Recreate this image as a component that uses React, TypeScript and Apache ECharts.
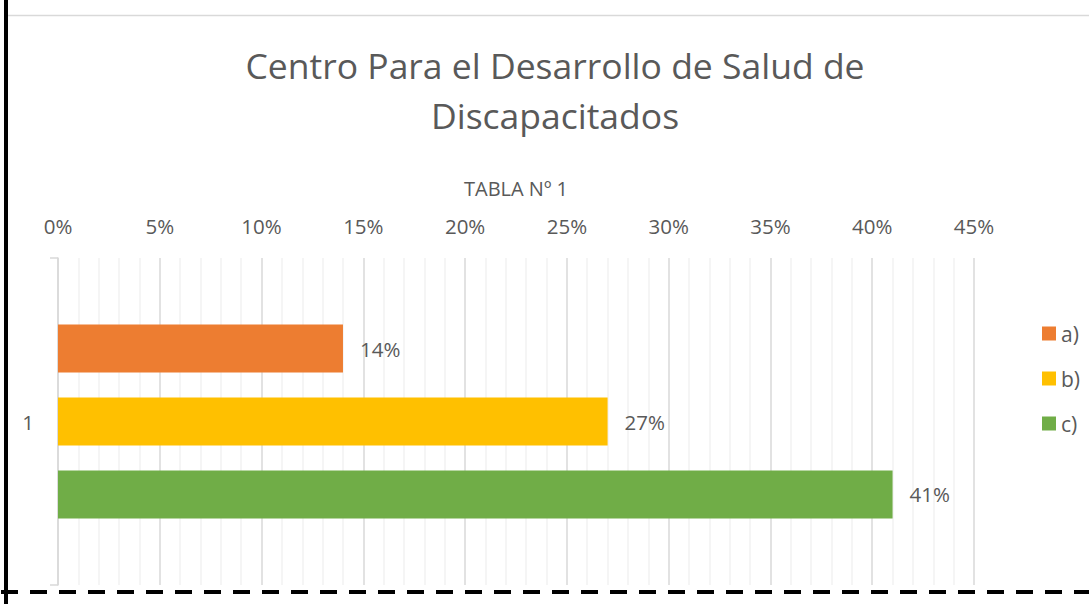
import React, { useEffect, useRef } from "react";
import * as echarts from "echarts";

const categories = ["1"];
const seriesNames = ["a)", "b)", "c)"];
const seriesValues = [14, 27, 41];
const seriesColors = ["#ED7D31", "#FFC000", "#70AD47"];
const titleLines = ["Centro Para el Desarrollo de Salud de", "Discapacitados"];
const axisName = "TABLA Nº 1";

const FONT = "'Open Sans', sans-serif";
const TXT = "#595959";

export default function App() {
  const ref = useRef<HTMLDivElement>(null);
  useEffect(() => {
    if (!ref.current) return;
    const chart = echarts.init(ref.current, null, { renderer: "svg" });
    chart.setOption({
      animation: false,
      backgroundColor: "#ffffff",
      textStyle: { fontFamily: FONT },
      graphic: [
        { type: "line", shape: { x1: 8, y1: 15.5, x2: 1089, y2: 15.5 }, style: { stroke: "#d9d9d9", lineWidth: 1.5 } },
        { type: "line", shape: { x1: 6, y1: 0, x2: 6, y2: 604 }, style: { stroke: "#000", lineWidth: 4 } },
        { type: "line", shape: { x1: 1, y1: 592, x2: 1089, y2: 592 }, style: { stroke: "#000", lineWidth: 4, lineDash: [17, 12] } },
        {
          type: "text", x: 555, y: 65,
          style: { text: titleLines[0], fill: TXT, font: `35.5px ${FONT}`, textAlign: "center", textVerticalAlign: "middle" },
        },
        {
          type: "text", x: 555, y: 115,
          style: { text: titleLines[1], fill: TXT, font: `35.5px ${FONT}`, textAlign: "center", textVerticalAlign: "middle" },
        },
      ],
      legend: {
        orient: "vertical",
        left: 1037,
        top: 318,
        itemWidth: 14,
        itemHeight: 14,
        itemGap: 24,
        icon: "rect",
        data: seriesNames,
        textStyle: { color: TXT, fontSize: 21, fontFamily: FONT },
      },
      grid: { left: 58, right: 115, top: 258, bottom: 19, containLabel: false },
      xAxis: {
        type: "value",
        position: "top",
        min: 0,
        max: 45,
        interval: 5,
        name: axisName,
        nameLocation: "middle",
        nameGap: 60,
        nameTextStyle: { color: TXT, fontSize: 20, fontFamily: FONT },
        axisLine: { show: false },
        axisTick: { show: false },
        axisLabel: { formatter: "{value}%", color: TXT, fontSize: 20.5, fontFamily: FONT, margin: 22 },
        splitLine: { show: true, lineStyle: { color: "#d9d9d9", width: 1.5 } },
        minorTick: { show: false, splitNumber: 5 },
        minorSplitLine: { show: true, lineStyle: { color: "#f2f2f2", width: 1.5 } },
      },
      yAxis: {
        type: "category",
        data: categories,
        inverse: true,
        axisLine: { show: true, lineStyle: { color: "#d9d9d9", width: 1.5 } },
        axisTick: { show: true, length: 8, lineStyle: { color: "#d9d9d9", width: 1.5 } },
        axisLabel: { color: TXT, fontSize: 20.5, fontFamily: FONT, margin: 24 },
      },
      series: seriesNames.map((name, i) => ({
        name,
        type: "bar",
        data: [seriesValues[i]],
        barWidth: 48,
        barGap: "52%",
        itemStyle: { color: seriesColors[i] },
        label: {
          show: true,
          position: "right",
          distance: 17,
          formatter: "{c}%",
          color: TXT,
          fontSize: 20.5,
          fontFamily: FONT,
        },
      })),
    });
    return () => chart.dispose();
  }, []);
  return <div ref={ref} style={{ position: "fixed", left: 0, top: 0, width: 1089, height: 604 }} />;
}
